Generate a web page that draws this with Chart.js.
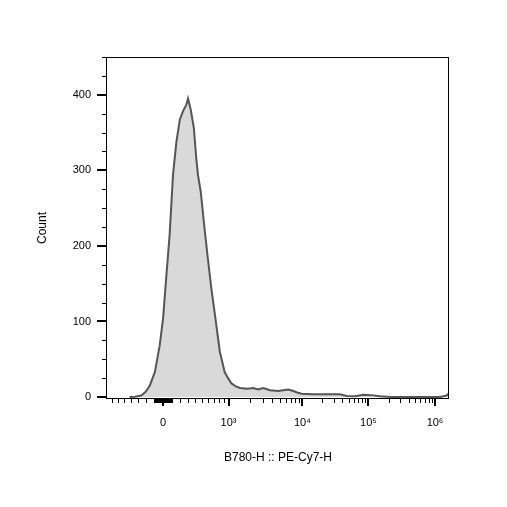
<!DOCTYPE html>
<html>
<head>
<meta charset="utf-8">
<script src="https://cdn.jsdelivr.net/npm/chart.js@4/dist/chart.umd.min.js"></script>
<style>
  html, body { margin: 0; padding: 0; background: #ffffff; }
  #wrap { width: 507px; height: 507px; }
</style>
</head>
<body>
<div id="wrap"><canvas id="c" width="507" height="507"></canvas></div>
<script>
// ---- Data (histogram) ----
// x: display channel of the biexponential axis (0..1000 across the plot)
const displayChannel = [66, 82, 100, 113, 125, 140, 154, 164, 173, 183, 193, 203, 213, 222, 232, 237,
  245, 254, 261, 266, 274, 284, 295, 305, 317, 330, 344, 354, 364, 377, 389, 409, 428, 442, 457, 477,
  501, 515, 530, 545, 556, 569, 603, 642, 681, 701, 725, 749, 779, 798, 828, 857, 915, 974, 993, 1000];
const counts = [0, 0.5, 2, 7, 15, 33, 68, 104, 157, 214, 294, 338, 367, 378, 387, 395,
  380, 356, 316, 294, 272, 228, 183, 144, 104, 60, 33, 25, 18, 14, 12, 11, 12, 10, 12, 9,
  8, 9, 10, 8, 6, 4.5, 3.6, 3.6, 3.6, 1.3, 1, 3, 2.2, 1, 0, 0, 0, 0, 2, 5];

// ---- Axis labels / ticks ----
const xMajorValues = [0, 1e3, 1e4, 1e5, 1e6];
const xMajorLabels = ['0', '10\u00B3', '10\u2074', '10\u2075', '10\u2076'];
const xMinorValues = [-700, -600, -500, -400, -300, -200, -100,
  -90, -80, -70, -60, -50, -40, -30, -20, -10,
  10, 20, 30, 40, 50, 60, 70, 80, 90,
  100, 200, 300, 400, 500, 600, 700, 800, 900,
  2e3, 3e3, 4e3, 5e3, 6e3, 7e3, 8e3, 9e3,
  2e4, 3e4, 4e4, 5e4, 6e4, 7e4, 8e4, 9e4,
  2e5, 3e5, 4e5, 5e5, 6e5, 7e5, 8e5, 9e5];
const yLabelValues = [0, 100, 200, 300, 400];
const yTickValues = [0, 25, 50, 75, 100, 125, 150, 175, 200, 225, 250, 275, 300, 325, 350, 375, 400, 425, 450];

const xTitle = 'B780-H :: PE-Cy7-H';
const yTitle = 'Count';

// ---- Biexponential axis calibration ----
const cofactor = 570;                                   // arcsinh cofactor
const anchorDisplay = [163.7, 355.3, 571.6, 764.6, 959.1]; // display channel of 0, 10^3..10^6

function toDisplay(v) {
  const g = Math.asinh(v / cofactor);
  const G = xMajorValues.map(a => Math.asinh(a / cofactor));
  let i = 0;
  while (i < G.length - 2 && g > G[i + 1]) i++;
  return anchorDisplay[i] + (g - G[i]) * (anchorDisplay[i + 1] - anchorDisplay[i]) / (G[i + 1] - G[i]);
}

const points = displayChannel.map((x, i) => ({ x: x, y: counts[i] }));

const FONT = "'Liberation Sans', Arial, Helvetica, sans-serif";

const frameTicks = {
  id: 'frameTicks',
  afterDraw(chart) {
    const { ctx, chartArea: a, scales } = chart;
    const xs = scales.x, ys = scales.y;
    ctx.save();
    ctx.strokeStyle = '#000';
    // frame
    ctx.lineWidth = 1;
    ctx.strokeRect(Math.round(a.left) - 0.5, Math.round(a.top) + 0.5,
      Math.round(a.right) - Math.round(a.left), Math.round(a.bottom) - Math.round(a.top) - 1);
    const bottom = Math.round(a.bottom) - 1;
    const left = Math.round(a.left) - 1;
    // x ticks
    xs.ticks.forEach(t => {
      const p = xs.getPixelForValue(t.value);
      if (p < a.left - 0.5 || p > a.right + 0.5) return;
      ctx.beginPath();
      if (t.isMajor) {
        ctx.lineWidth = 2;
        ctx.moveTo(Math.round(p), bottom);
        ctx.lineTo(Math.round(p), bottom + 8);
      } else {
        ctx.lineWidth = 1;
        ctx.moveTo(Math.round(p) + 0.5, bottom);
        ctx.lineTo(Math.round(p) + 0.5, bottom + 5);
      }
      ctx.stroke();
    });
    // y ticks
    ys.ticks.forEach(t => {
      const p = ys.getPixelForValue(t.value);
      ctx.beginPath();
      if (yLabelValues.includes(t.value)) {
        ctx.lineWidth = 2;
        ctx.moveTo(left + 1, Math.round(p));
        ctx.lineTo(left - 9, Math.round(p));
      } else {
        ctx.lineWidth = 1;
        ctx.moveTo(left + 1, Math.round(p) + 0.5);
        ctx.lineTo(left - 4, Math.round(p) + 0.5);
      }
      ctx.stroke();
    });
    ctx.restore();
  }
};

new Chart(document.getElementById('c'), {
  type: 'line',
  data: {
    datasets: [{
      data: points,
      borderColor: '#555555',
      borderWidth: 2,
      backgroundColor: '#d9d9d9',
      fill: 'origin',
      tension: 0,
      pointRadius: 0
    }]
  },
  options: {
    responsive: false,
    animation: false,
    devicePixelRatio: 1,
    layout: { padding: { top: 57, right: 58, left: 0, bottom: 0 } },
    plugins: { legend: { display: false }, tooltip: { enabled: false } },
    scales: {
      x: {
        type: 'linear',
        min: 0,
        max: 1000,
        border: { display: false },
        grid: { display: false, drawTicks: false },
        afterBuildTicks: (scale) => {
          const t = [];
          xMinorValues.forEach(v => t.push({ value: toDisplay(v), raw: v, isMajor: false }));
          xMajorValues.forEach(v => t.push({ value: toDisplay(v), raw: v, isMajor: true }));
          t.sort((p, q) => p.value - q.value);
          scale.ticks = t;
        },
        afterFit: (scale) => { scale.height = 108; },
        ticks: {
          autoSkip: false,
          maxRotation: 0,
          minRotation: 0,
          padding: 17,
          color: '#000',
          font: { family: FONT, size: 11 },
          callback: (val, i, ticks) => {
            const t = ticks[i];
            const k = xMajorValues.indexOf(t.raw);
            return k >= 0 ? xMajorLabels[k] : '';
          }
        },
        title: {
          display: true,
          text: xTitle,
          color: '#000',
          font: { family: FONT, size: 12 },
          padding: { top: 0, bottom: 42 }
        }
      },
      y: {
        type: 'linear',
        min: -2.6,
        max: 450,
        border: { display: false },
        grid: { display: false, drawTicks: false },
        afterBuildTicks: (scale) => {
          scale.ticks = yTickValues.map(v => ({ value: v }));
        },
        afterFit: (scale) => { scale.width = 107; },
        ticks: {
          autoSkip: false,
          padding: 16,
          color: '#000',
          font: { family: FONT, size: 11 },
          callback: (val) => yLabelValues.includes(val) ? String(val) : ''
        },
        title: {
          display: true,
          text: yTitle,
          color: '#000',
          font: { family: FONT, size: 12 },
          padding: { top: 35, bottom: 0 }
        }
      }
    }
  },
  plugins: [frameTicks]
});
</script>
</body>
</html>
